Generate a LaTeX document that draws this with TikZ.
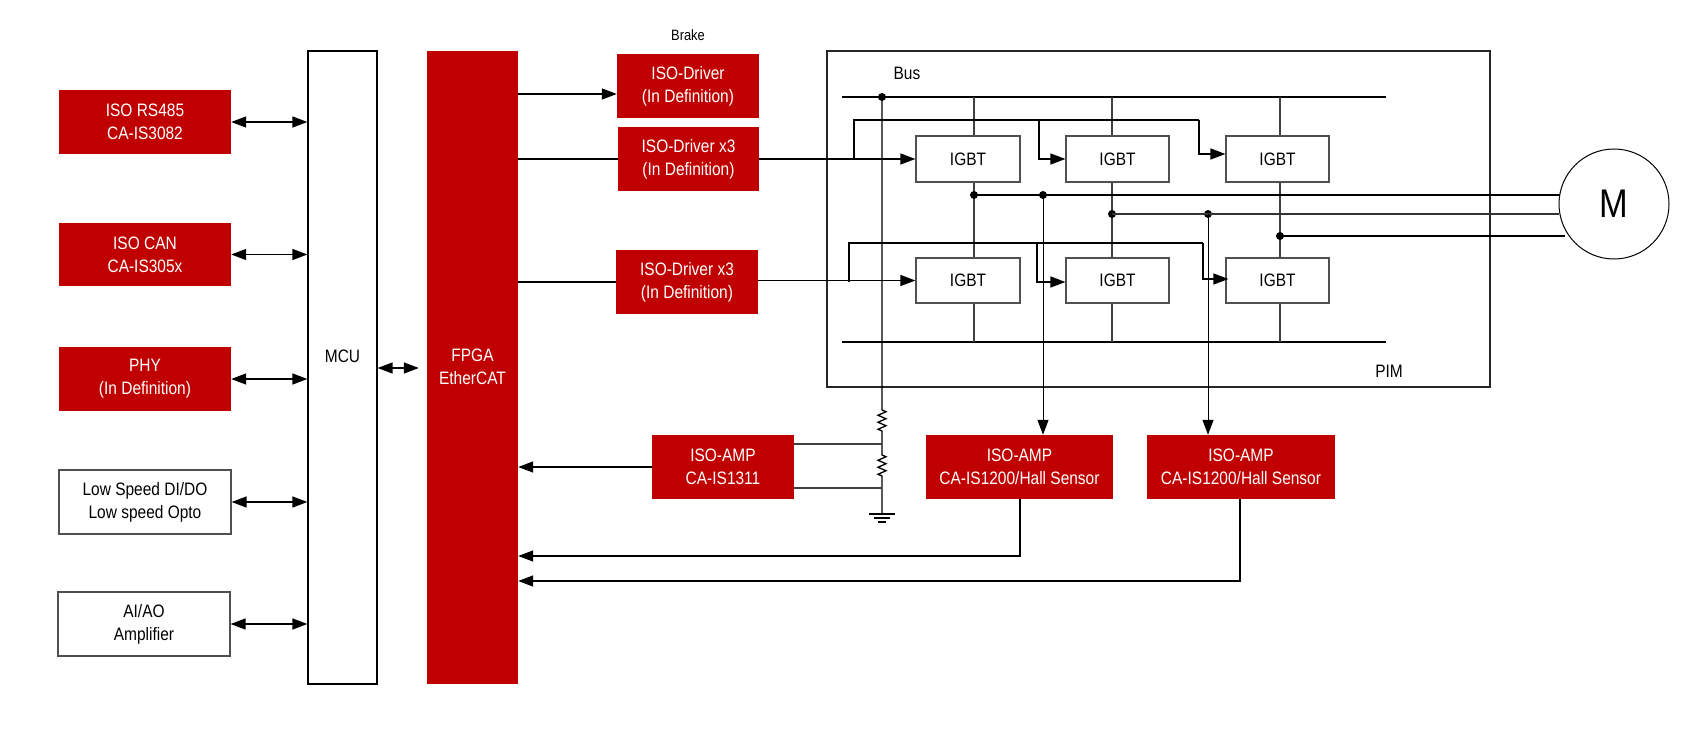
\documentclass[tikz,border=0pt]{standalone}
\usepackage{fontspec}
\setmainfont{Liberation Sans}[FakeStretch=0.86]
\usetikzlibrary{arrows.meta,decorations.pathmorphing}
\definecolor{rd}{HTML}{C00000}
\definecolor{gb}{HTML}{505050}
\begin{document}
\begin{tikzpicture}[x=1pt,y=-1pt,
  txt/.style={align=center,font=\fontsize{18}{23}\selectfont,inner sep=0pt},
  rbox/.style={txt,fill=rd,text=white,draw=none},
  wbox/.style={txt,fill=white,draw=gb,line width=1.2pt},
  ibox/.style={txt,draw=gb,line width=1.2pt,minimum width=104pt,minimum height=46pt},
  ln/.style={line width=1.3pt},
  tn/.style={line width=1.1pt,black!75},
  arr/.style={ln,-{Triangle[length=15pt,width=11pt]}},
  darr/.style={ln,{Triangle[length=15pt,width=11pt]}-{Triangle[length=15pt,width=11pt]}},
  dot/.style={circle,fill=black,inner sep=0pt,minimum size=8pt}]
\useasboundingbox (0,0) rectangle (1689,746);
% left column
\node[rbox,minimum width=172pt,minimum height=64pt] (rs) at (145,122) {ISO RS485\\CA-IS3082};
\node[rbox,minimum width=172pt,minimum height=63pt] (can) at (145,254.5) {ISO CAN\\CA-IS305x};
\node[rbox,minimum width=172pt,minimum height=64pt] (phy) at (145,379) {PHY\\(In Definition)};
\node[wbox,minimum width=172pt,minimum height=64pt] (low) at (145,502) {Low Speed DI/DO\\Low speed Opto};
\node[wbox,minimum width=172pt,minimum height=64pt] (ai) at (144,624) {AI/AO\\Amplifier};
\node[wbox,draw=black,minimum width=69pt,minimum height=633pt] (mcu) at (342.5,367.5) {};
\node[txt] (mcut) at (342.5,356) {MCU};
\node[rbox,minimum width=91pt,minimum height=633pt] (fpga) at (472.5,367.5) {};
\node[txt,text=white] (fpgat) at (472.5,367) {FPGA\\EtherCAT};
\foreach \n in {rs,can,phy,low,ai} \draw[darr] (\n.east) -- (\n.east -| mcu.west);
\coordinate (y368) at (0,368);
\draw[darr] (mcu.east |- y368) -- ([xshift=-8pt]fpga.west |- y368);
% drivers
\node[txt,font=\fontsize{15}{18}\selectfont] (brk) at (688,35) {Brake};
\node[rbox,minimum width=142pt,minimum height=64pt] (bd) at (688,86) {ISO-Driver\\(In Definition)};
\node[rbox,minimum width=141pt,minimum height=64pt] (d1) at (688.5,159) {ISO-Driver x3\\(In Definition)};
\node[rbox,minimum width=142pt,minimum height=64pt] (d2) at (687,282) {ISO-Driver x3\\(In Definition)};
\coordinate (y94) at (0,94);
\draw[arr] (fpga.east |- y94) -- (bd.west |- y94);
\draw[ln] (fpga.east |- d1.west) -- (d1.west);
\draw[ln] (fpga.east |- d2.west) -- (d2.west);
% PIM
\draw[line width=1.2pt,black!85] (827,51) rectangle (1490,387);
\node[txt] (bus) at (907,73) {Bus};
\node[txt] (pim) at (1389,371) {PIM};
\coordinate (b1l) at (842,97); \coordinate (b1r) at (1386,97);
\coordinate (b2l) at (842,342); \coordinate (b2r) at (1386,342);
\draw[ln] (b1l) -- (b1r);
\draw[ln] (b2l) -- (b2r);
\node[ibox] (g1) at (968,159) {IGBT};
\node[ibox,minimum width=103pt] (g2) at (1117.5,159) {IGBT};
\node[ibox,minimum width=103pt] (g3) at (1277.5,159) {IGBT};
\node[ibox,minimum height=45pt] (g4) at (968,280.5) {IGBT};
\node[ibox,minimum width=103pt,minimum height=45pt] (g5) at (1117.5,280.5) {IGBT};
\node[ibox,minimum width=103pt,minimum height=45pt] (g6) at (1277.5,280.5) {IGBT};
\foreach \x/\a/\b in {974/g1/g4,1112/g2/g5,1280/g3/g6}{
  \coordinate (t) at (\x,0);
  \draw[tn] (t |- b1l) -- (t |- \a.north);
  \draw[tn] (t |- \a.south) -- (t |- \b.north);
  \draw[tn] (t |- \b.south) -- (t |- b2l);
}
% gate drive
\draw[arr] (d1.east) -- (g1.west);
\draw[ln] (854,159) -- (854,120) -- (1199,120);
\draw[arr] (1199,120) -- (1199,154) -- (g3.west |- 0,154);
\draw[arr] (1039,120) -- (1039,159) -- (g2.west);
\draw[arr] (d2.east |- g4.west) -- (g4.west);
\draw[ln] (849,282) -- (849,243) -- (1203,243);
\draw[arr] (1203,243) -- (1203,279) -- ([xshift=3pt]g6.west |- 0,279);
\draw[arr] (1037,243) -- (1037,282) -- (g5.west |- 0,282);
% motor
\node[draw=black,line width=1pt,circle,minimum size=110pt,inner sep=0pt,font=\fontsize{40}{40}\selectfont] (m) at (1614,204) {M};
\node[dot] (p1) at (974,195) {};
\node[dot] (p1b) at (1043,195) {};
\node[dot] (p2) at (1112,214) {};
\node[dot] (p2b) at (1208,214) {};
\node[dot] (p3) at (1280,236) {};
\node[dot] (pb) at (882,97) {};
\draw[ln] (p1.center) -- (1560,195);
\draw[ln,black!80] (p2.center) -- (1559,214);
\draw[ln] (p3.center) -- (1565,236);
% amps
\node[rbox,minimum width=142pt,minimum height=64pt] (a1) at (723,467) {ISO-AMP\\CA-IS1311};
\node[rbox,minimum width=187pt,minimum height=64pt] (a2) at (1019.5,467) {ISO-AMP\\CA-IS1200/Hall Sensor};
\node[rbox,minimum width=188pt,minimum height=64pt] (a3) at (1241,467) {ISO-AMP\\CA-IS1200/Hall Sensor};
\draw[arr,line width=1pt] (p1b.center) -- (p1b.center |- a2.north);
\draw[arr,line width=1pt] (p2b.center) -- (p2b.center |- a3.north);
% shunt
\coordinate (gnd) at (882,514);
\draw[ln] (pb.center) -- (882,410)
  decorate[decoration={zigzag,segment length=7pt,amplitude=4pt}]{-- (882,432)}
  -- (882,455)
  decorate[decoration={zigzag,segment length=7pt,amplitude=4pt}]{-- (882,478)}
  -- (gnd);
\draw[line width=1.2pt] (869,514) -- (895,514) (874,518) -- (890,518) (878,522) -- (886,522);
\draw[tn,line width=1.5pt] (a1.east |- 0,444) -- (882,444);
\draw[tn,line width=1.5pt] (a1.east |- 0,488) -- (882,488);
\draw[arr] (a1.west) -- (fpga.east |- a1.west);
\draw[arr] (1020,499) -- (1020,556) -- (fpga.east |- 0,556);
\draw[arr] (1240,499) -- (1240,581) -- (fpga.east |- 0,581);
\end{tikzpicture}
\end{document}
